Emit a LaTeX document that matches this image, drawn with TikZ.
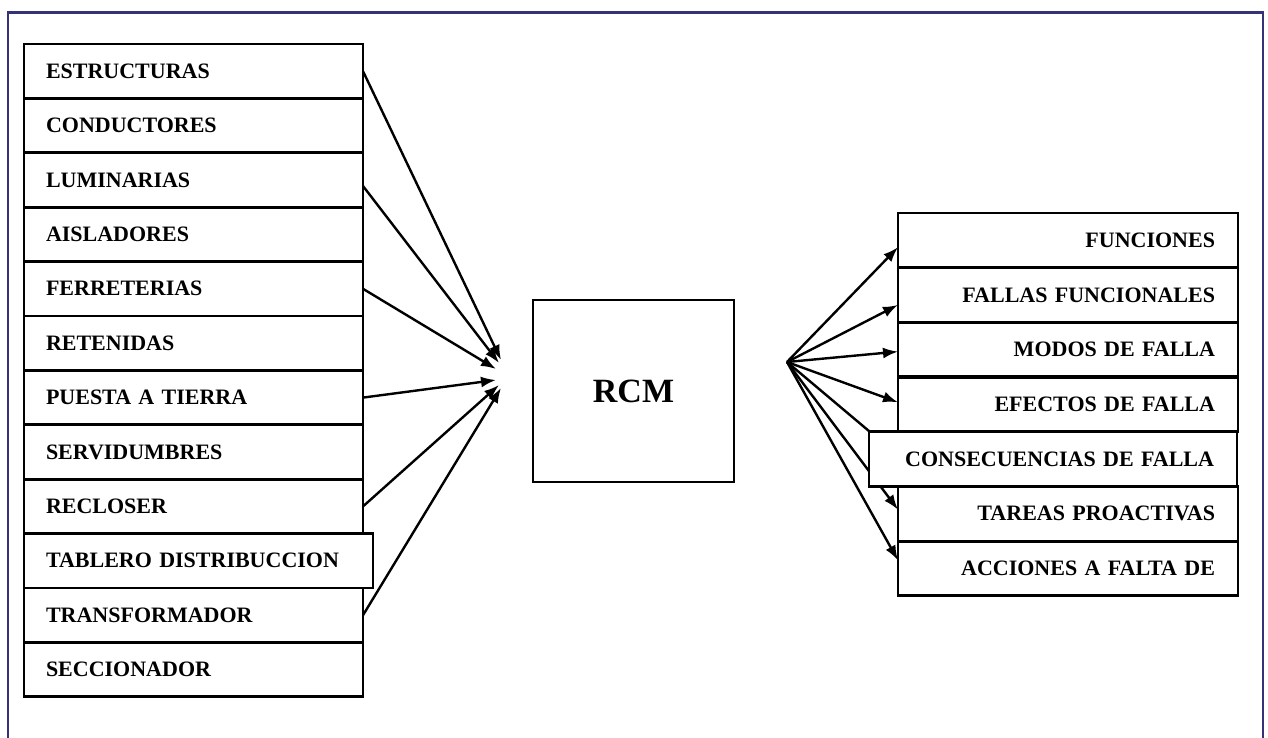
\documentclass[tikz,border=0pt]{standalone}
\usepackage{fontspec}
\setmainfont{Liberation Serif}
\usetikzlibrary{arrows.meta,backgrounds}
\definecolor{framenavy}{RGB}{52,50,120}
\begin{document}
\begin{tikzpicture}[x=1pt,y=-1pt,
  item/.style={draw, line width=2.8pt, fill=white, minimum height=54.4pt,
    inner ysep=0pt, outer sep=0pt, anchor=north west,
    font=\fontsize{22}{26}\selectfont\bfseries},
  leftitem/.style={item, text width=295pt, inner xsep=22pt, align=left},
  rightitem/.style={item, text width=294pt, inner xsep=23pt, align=right},
  feed/.style={line width=2.4pt, -{Latex[length=15pt,width=11pt]}},
]
\useasboundingbox (0,0) rectangle (1268,738);

% outer frame (open at the bottom)
\draw[framenavy, line width=2.6pt] (8,745) -- (8,12.5) -- (1263,12.5) -- (1263,745);

% components column
\node[leftitem] (estr) at (24,44)    {ESTRUCTURAS};
\node[leftitem] (cond) at (24,98.4)  {CONDUCTORES};
\node[leftitem] (lum)  at (24,152.8) {LUMINARIAS};
\node[leftitem] (ais)  at (24,207.2) {AISLADORES};
\node[leftitem] (ferr) at (24,261.6) {FERRETERIAS};
\node[leftitem] (ret)  at (24,316)   {RETENIDAS};
\node[leftitem] (pat)  at (24,370.4) {PUESTA A TIERRA};
\node[leftitem] (serv) at (24,424.8) {SERVIDUMBRES};
\node[leftitem] (recl) at (24,479.2) {RECLOSER};
\node[leftitem] (trf)  at (24,588)   {TRANSFORMADOR};
\node[leftitem] (secc) at (24,642.4) {SECCIONADOR};
\node[leftitem, text width=305pt] (tab) at (24,533.6) {TABLERO DISTRIBUCCION};

% central box
\node[draw, line width=2.8pt, fill=white, minimum width=201pt, minimum height=182pt,
      font=\fontsize{34}{40}\selectfont\bfseries] (rcm) at (633.5,391) {RCM};

% analysis steps column
\node[rightitem] (fun)  at (898,213)   {FUNCIONES};
\node[rightitem] (ffun) at (898,267.7) {FALLAS FUNCIONALES};
\node[rightitem] (mod)  at (898,322.4) {MODOS DE FALLA};
\node[rightitem] (efe)  at (898,377.1) {EFECTOS DE FALLA};
\node[rightitem] (tar)  at (898,486.5) {TAREAS PROACTIVAS};
\node[rightitem] (acc)  at (898,541.2) {ACCIONES A FALTA DE};
\node[rightitem, text width=322pt] (cons) at (869,431.8) {CONSECUENCIAS DE FALLA};

\coordinate (hub) at (501,372);
\coordinate (fan) at (787,362);

\begin{scope}[on background layer]
  % inputs converging on the left
  \draw[feed] (estr.east) -- ([yshift=12pt]hub);
  \draw[feed] ([yshift=-6pt]lum.east) -- ([xshift=-2pt,yshift=9pt]hub);
  \draw[feed] (ferr.east) -- ([xshift=-5pt,yshift=3pt]hub);
  \draw[feed] (pat.east)  -- ([xshift=-5pt,yshift=-8pt]hub);
  \draw[feed] (recl.east) -- ([xshift=-2pt,yshift=-13pt]hub);
  \draw[feed] (trf.east)  -- ([yshift=-16pt]hub);
  % outputs fanning out on the right
  \draw[feed] (fan) -- ([yshift=-7pt]fun.west);
  \draw[feed] (fan) -- ([yshift=-10pt]ffun.west);
  \draw[feed] (fan) -- ([yshift=-2pt]mod.west);
  \draw[feed] (fan) -- ([yshift=2pt]efe.west);
  \draw[feed] (fan) -- ([yshift=-24pt]efe.south west);
  \draw[feed] (fan) -- ([yshift=4pt]tar.west);
  \draw[feed] (fan) -- ([yshift=8pt]acc.west);
\end{scope}
\end{tikzpicture}
\end{document}
